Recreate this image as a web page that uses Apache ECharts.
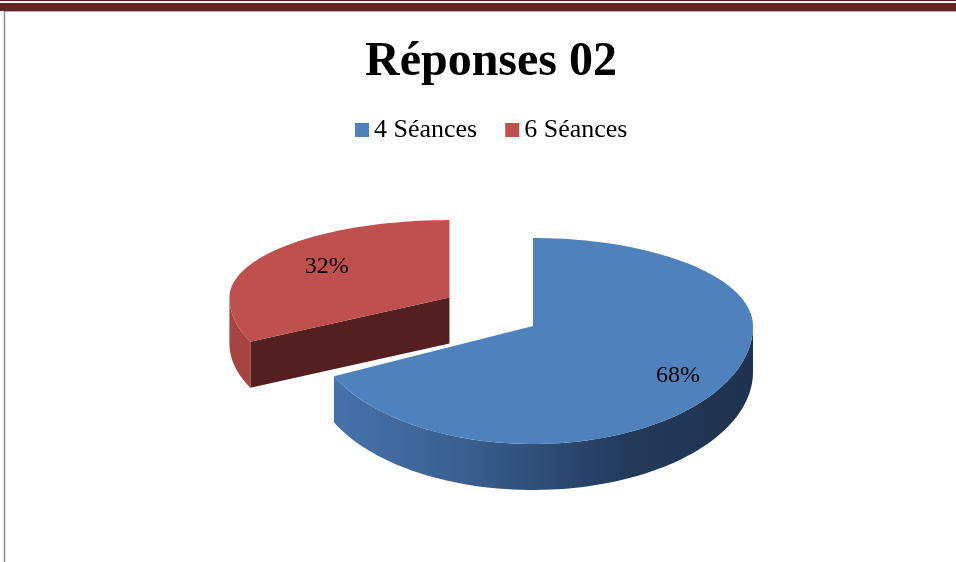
<!DOCTYPE html>
<html>
<head>
<meta charset="utf-8">
<script src="https://cdn.jsdelivr.net/npm/echarts@6/dist/echarts.min.js"></script>
<style>
  html, body { margin: 0; padding: 0; background: #ffffff; }
  #chart { width: 956px; height: 562px; }
</style>
</head>
<body>
<div id="chart"></div>
<script>
// ---- data ----
const categories = ['4 Séances', '6 Séances'];
const values = [68, 32];
const titleText = 'Réponses 02';

// ---- style / layout ----
const topColors = ['#4F81BD', '#C0504D'];
const cutColors = ['#2A4669', '#541F20'];
const wallColors = [
  { type: 'linear', x: 0, y: 0, x2: 1, y2: 0, colorStops: [
    { offset: 0, color: '#4672AA' }, { offset: 0.3, color: '#3A6091' },
    { offset: 0.5, color: '#2E4D75' }, { offset: 0.7, color: '#233A5A' },
    { offset: 1, color: '#1F324F' } ] },
  '#A64441'
];
const G = { cx: 533, cy: 326, rx: 220, ryBack: 88, ryFront: 118, depth: 46 };
const explode = [0, 0.45];
const yScale = [1, 0.88];
const labelR = [0.78, 0.66];
const FONT = "'Liberation Serif', 'Times New Roman', serif";

const total = values.reduce((a, b) => a + b, 0);
const DEG = Math.PI / 180;

function pt(aDeg, cx, cy, dy, ys) {
  const a = aDeg * DEG;
  const s = Math.sin(a);
  return [cx + G.rx * Math.cos(a), cy - (s > 0 ? G.ryBack : G.ryFront) * ys * s + (dy || 0)];
}
function arc(from, to, cx, cy, dy, ys) {
  const pts = [];
  const n = Math.max(2, Math.ceil(Math.abs(to - from) / 2));
  for (let i = 0; i <= n; i++) pts.push(pt(from + (to - from) * i / n, cx, cy, dy, ys));
  return pts;
}

function renderItem(params, api) {
  const idx = categories.indexOf(params.seriesName);
  const v = api.value(0);
  let cum = 0;
  for (let i = 0; i < idx; i++) cum += values[i];
  const a0 = 90 - 360 * cum / total;
  const a1 = 90 - 360 * (cum + v) / total;
  const mid = (a0 + a1) / 2;
  const f = explode[idx];
  const ys = yScale[idx];
  const cx = G.cx + f * G.rx * Math.cos(mid * DEG);
  const cy = G.cy - f * G.ryFront * Math.sin(mid * DEG);
  const children = [];

  // cut faces (radial walls) facing the viewer
  const edges = [[a0, a0 + 90], [a1, a1 - 90]];
  edges.forEach(([a, nrm]) => {
    if (Math.sin(nrm * DEG) < -1e-6) {
      const p = pt(a, cx, cy, 0, ys);
      children.push({ type: 'polygon', shape: { points: [[cx, cy], p, [p[0], p[1] + G.depth], [cx, cy + G.depth]] },
        style: { fill: cutColors[idx] } });
    }
  });
  // outer wall (front half only)
  for (let k = -2; k <= 0; k++) {
    const lo = Math.max(a1, 180 + 360 * k);
    const hi = Math.min(a0, 360 + 360 * k);
    if (hi - lo > 0.01) {
      const top = arc(lo, hi, cx, cy, 0, ys);
      const bot = arc(hi, lo, cx, cy, G.depth, ys);
      children.push({ type: 'polygon', shape: { points: top.concat(bot) }, style: { fill: wallColors[idx] } });
    }
  }
  // top face
  children.push({ type: 'polygon', shape: { points: [[cx, cy]].concat(arc(a0, a1, cx, cy, 0, ys)) },
    style: { fill: topColors[idx] } });
  // label
  const lr = labelR[idx];
  const s = Math.sin(mid * DEG);
  children.push({ type: 'text', style: {
    text: Math.round(v / total * 100) + '%',
    x: cx + lr * G.rx * Math.cos(mid * DEG),
    y: cy - lr * (s > 0 ? G.ryBack : G.ryFront) * s,
    font: '24px ' + FONT, fill: '#000', align: 'center', verticalAlign: 'middle' } });
  return { type: 'group', children };
}

// draw back slice first
const drawOrder = [1, 0];
const series = drawOrder.map(i => ({
  type: 'custom', name: categories[i], coordinateSystem: 'none', silent: true,
  itemStyle: { color: topColors[i] }, renderItem, data: [[values[i]]]
}));

const chart = echarts.init(document.getElementById('chart'), null, { renderer: 'canvas' });
chart.setOption({
  backgroundColor: '#ffffff',
  animation: false,
  title: {
    text: titleText, left: 365, top: 39, padding: 0,
    textStyle: { fontFamily: FONT, fontWeight: 'bold', fontSize: 48, color: '#000' }
  },
  legend: {
    data: categories, left: 355, top: 117, padding: 0,
    icon: 'rect', itemWidth: 14, itemHeight: 14, itemGap: 28,
    textStyle: { fontFamily: FONT, fontSize: 26, color: '#000' }, selectedMode: false
  },
  graphic: [
    { type: 'rect', shape: { x: 0, y: 0, width: 956, height: 1 }, style: { fill: '#5B1E1E' }, silent: true },
    { type: 'rect', shape: { x: 0, y: 3, width: 956, height: 8 }, style: { fill: '#632423' }, silent: true },
    { type: 'line', shape: { x1: 4, y1: 11.5, x2: 956, y2: 11.5 }, style: { stroke: '#B4B4B4', lineWidth: 1 }, silent: true },
    { type: 'line', shape: { x1: 4.5, y1: 11, x2: 4.5, y2: 562 }, style: { stroke: '#8C8C8C', lineWidth: 1.5 }, silent: true }
  ],
  series
});
</script>
</body>
</html>
